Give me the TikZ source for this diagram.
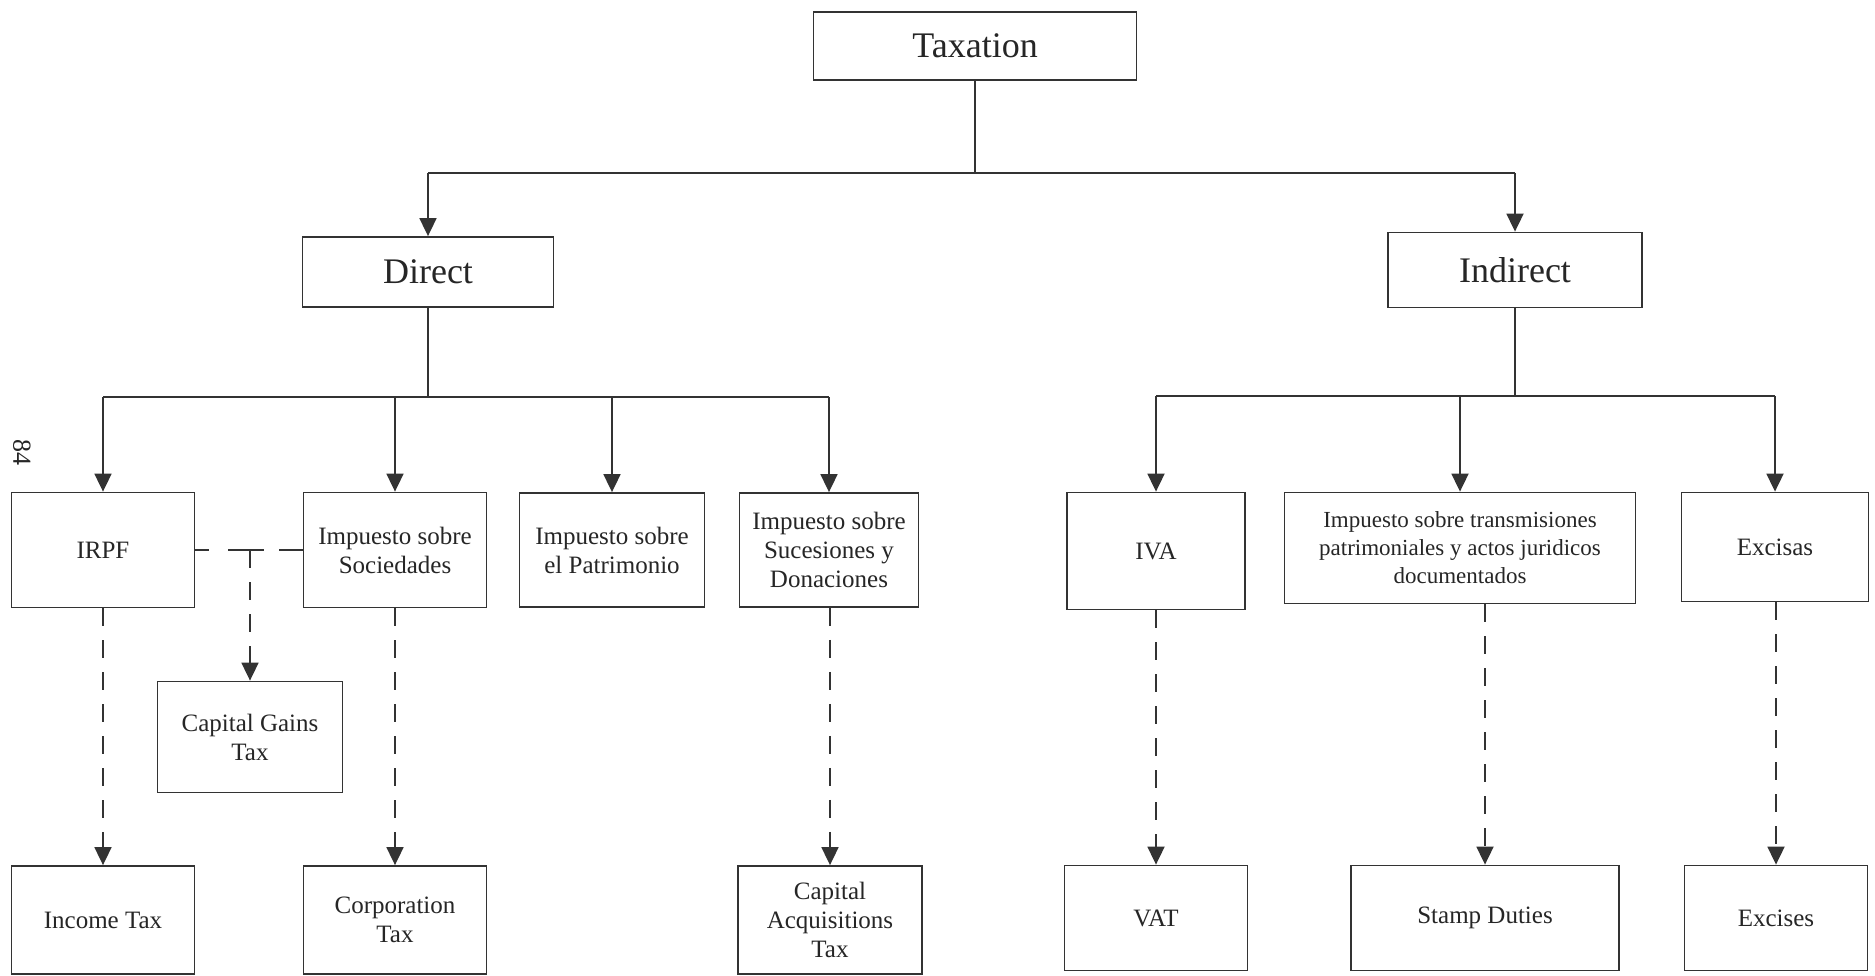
\documentclass[tikz,border=0pt]{standalone}
\usepackage{fontspec}
\setmainfont{Liberation Serif}
\usetikzlibrary{arrows.meta}
\begin{document}
\begin{tikzpicture}[x=1pt,y=-1pt,
  box/.style={draw=black!80, line width=1.8pt, fill=white, inner sep=0pt, align=center,
    font=\fontsize{25}{29}\selectfont, text=black!85},
  big/.style={font=\fontsize{36}{40}\selectfont},
  link/.style={draw=black!80, line width=1.8pt},
  arr/.style={link, -{Triangle[length=18pt,width=17pt]}},
  darr/.style={arr, dash pattern=on 18pt off 14pt},
  dline/.style={link, dash pattern=on 14pt off 19pt on 36pt off 15pt on 40pt},
]
\useasboundingbox (0,0) rectangle (1875,976);
\fill[white] (0,0) rectangle (1875,976);

% level 0 and 1
\node[box, big, minimum width=323pt, minimum height=68pt] (tax) at (975,46) {Taxation};
\node[box, big, minimum width=251pt, minimum height=70pt] (direct) at (428,272) {Direct};
\node[box, big, minimum width=254pt, minimum height=75pt] (indirect) at (1515,270) {Indirect};

% level 2
\node[box, minimum width=183pt, minimum height=115pt] (irpf) at (103,550) {IRPF};
\node[box, minimum width=183pt, minimum height=115pt] (soc) at (395,550) {Impuesto sobre\\Sociedades};
\node[box, minimum width=185pt, minimum height=114pt] (patr) at (612,550) {Impuesto sobre\\el Patrimonio};
\node[box, minimum width=179pt, minimum height=114pt] (suc) at (829,550) {Impuesto sobre\\Sucesiones y\\Donaciones};
\node[box, minimum width=178pt, minimum height=117pt] (iva) at (1156,551) {IVA};
\node[box, minimum width=351pt, minimum height=111pt, font=\fontsize{23}{28}\selectfont] (trans) at (1460,548) {Impuesto sobre transmisiones\\patrimoniales y actos juridicos\\documentados};
\node[box, minimum width=187pt, minimum height=109pt] (excisas) at (1775,547) {Excisas};

% level 3
\node[box, minimum width=185pt, minimum height=111pt] (cgt) at (250,737) {Capital Gains\\Tax};
\node[box, minimum width=183pt, minimum height=108pt] (income) at (103,920) {Income Tax};
\node[box, minimum width=183pt, minimum height=108pt] (corp) at (395,920) {Corporation\\Tax};
\node[box, minimum width=184pt, minimum height=108pt] (cat) at (830,920) {Capital\\Acquisitions\\Tax};
\node[box, minimum width=183pt, minimum height=105pt] (vat) at (1156,918) {VAT};
\node[box, minimum width=268pt, minimum height=105pt] (stamp) at (1485,918) {Stamp Duties};
\node[box, minimum width=183pt, minimum height=105pt] (excises) at (1776,918) {Excises};

% page number
\node[rotate=-90, font=\fontsize{26}{26}\selectfont, text=black!85] (pg) at (22,452) {84};

% bars
\coordinate (bar0) at (0,173);
\coordinate (barL) at (0,397);
\coordinate (barR) at (0,396);

\draw[link] (tax.south) -- (tax.south |- bar0);
\draw[link] (direct.north |- bar0) -- (indirect.north |- bar0);
\draw[arr] (direct.north |- bar0) -- (direct.north);
\draw[arr] (indirect.north |- bar0) -- (indirect.north);

\draw[link] (direct.south) -- (direct.south |- barL);
\draw[link] (irpf.north |- barL) -- (suc.north |- barL);
\draw[arr] (irpf.north |- barL) -- (irpf.north);
\draw[arr] (soc.north |- barL) -- (soc.north);
\draw[arr] (patr.north |- barL) -- (patr.north);
\draw[arr] (suc.north |- barL) -- (suc.north);

\draw[link] (indirect.south) -- (indirect.south |- barR);
\draw[link] (iva.north |- barR) -- (excisas.north |- barR);
\draw[arr] (iva.north |- barR) -- (iva.north);
\draw[arr] (trans.north |- barR) -- (trans.north);
\draw[arr] (excisas.north |- barR) -- (excisas.north);

% dashed links
\draw[dline] (irpf.east) -- (soc.west);
\coordinate (tj) at (cgt.north |- irpf.east);
\draw[darr] (tj) -- (cgt.north);
\draw[darr] (irpf.south) -- (income.north);
\draw[darr] (soc.south) -- (corp.north);
\draw[darr] (suc.south -| cat.north) -- (cat.north);
\draw[darr] (iva.south) -- (vat.north);
\draw[darr] (trans.south -| stamp.north) -- (stamp.north);
\draw[darr] (excisas.south -| excises.north) -- (excises.north);
\end{tikzpicture}
\end{document}
